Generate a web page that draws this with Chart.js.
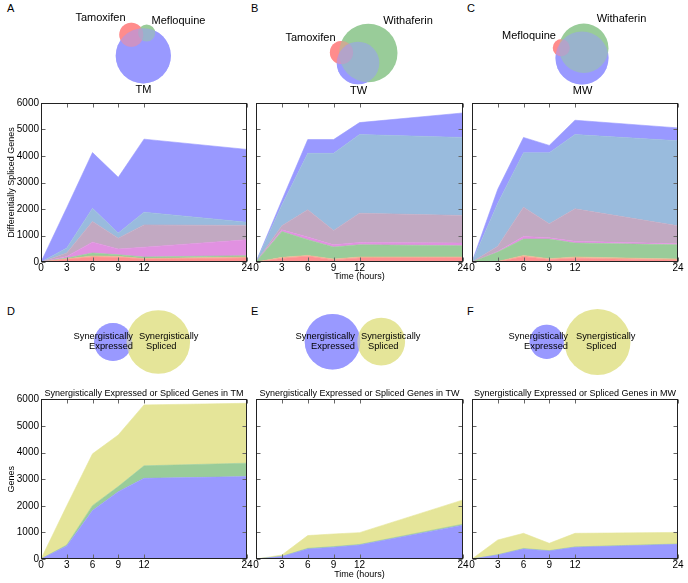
<!DOCTYPE html>
<html>
<head>
<meta charset="utf-8">
<script src="https://cdn.jsdelivr.net/npm/chart.js@4.4.1/dist/chart.umd.min.js"></script>
<style>
  html, body { margin: 0; padding: 0; background: #fff; }
  #fig { position: relative; width: 688px; height: 583px; overflow: hidden;
         font-family: 'Liberation Sans', Arial, sans-serif; }
  #fig canvas { position: absolute; }
  .tag { position: absolute; font-size: 11px; line-height: 12px; color: #000; }
</style>
</head>
<body>
<div id="fig">
  <div class="tag" style="left:7px;top:2px">A</div>
  <div class="tag" style="left:251px;top:2px">B</div>
  <div class="tag" style="left:467px;top:2px">C</div>
  <div class="tag" style="left:7px;top:305px">D</div>
  <div class="tag" style="left:251px;top:305px">E</div>
  <div class="tag" style="left:467px;top:305px">F</div>
</div>
<script>
'use strict';

// ─── Data ────────────────────────────────────────────────────────────────────

const TIMES = [0, 3, 6, 9, 12, 24];   // hours, also the x tick positions

// Differentially spliced genes — upper edge of each stacked band, bottom → top
// A: Tamoxifen (T) / Mefloquine (M) / combination TM
const TM_T      = [0, 100, 190, 180, 110, 150];
const TM_T_M    = [0, 120, 230, 210, 130, 190];
const TM_M      = [0, 150, 340, 275, 190, 240];
const TM_T_TM   = [0, 210, 750, 490, 560, 840];
const TM_ALL    = [0, 340, 1530, 900, 1400, 1380];
const TM_M_TM   = [0, 526, 2030, 1090, 1880, 1500];
const TM_TM     = [0, 2050, 4130, 3195, 4636, 4248];

// B: Tamoxifen (T) / Withaferin (W) / combination TW
const TW_T      = [0, 130, 220, 80, 150, 160];
const TW_T_W    = [0, 175, 250, 110, 190, 190];
const TW_W      = [0, 1150, 840, 565, 650, 615];
const TW_T_TW   = [0, 1215, 940, 650, 740, 715];
const TW_ALL    = [0, 1365, 1970, 1190, 1840, 1755];
const TW_W_TW   = [0, 2150, 4100, 4100, 4810, 4700];
const TW_TW     = [0, 2330, 4620, 4620, 5260, 5625];

// C: Mefloquine (M) / Withaferin (W) / combination MW
const MW_M      = [0, 10, 200, 90, 140, 70];
const MW_M_W    = [0, 20, 250, 125, 190, 110];
const MW_W      = [0, 375, 865, 865, 715, 650];
const MW_M_MW   = [0, 400, 965, 915, 780, 690];
const MW_ALL    = [0, 590, 2070, 1440, 2005, 1365];
const MW_W_MW   = [0, 2220, 4120, 4120, 4810, 4575];
const MW_MW     = [0, 2745, 4700, 4400, 5350, 5060];

// Synergistic genes — upper edge of each band (expressed, both, spliced)
const SYN_TM_EXPR   = [0, 490, 1820, 2530, 3030, 3095];
const SYN_TM_BOTH   = [0, 525, 2005, 2720, 3500, 3600];
const SYN_TM_SPLICE = [0, 2000, 3950, 4660, 5790, 5850];
const SYN_TW_EXPR   = [0, 90, 375, 440, 525, 1270];
const SYN_TW_BOTH   = [0, 100, 400, 465, 545, 1310];
const SYN_TW_SPLICE = [0, 150, 880, 940, 990, 2220];
const SYN_MW_EXPR   = [0, 150, 375, 300, 440, 550];
const SYN_MW_BOTH   = [0, 160, 395, 315, 455, 565];
const SYN_MW_SPLICE = [0, 715, 965, 590, 965, 1000];

// Venn circles (x, y, r) — top row: combo set, first drug, second drug
const VENN_COMBO = [{x: 143.3, y: 55.8, r: 27.6}, {x: 358, y: 63, r: 21.3}, {x: 582, y: 58, r: 26.5}];
const VENN_SET1  = [{x: 131.3, y: 34.7, r: 12},   {x: 341.5, y: 52.5, r: 11.6}, {x: 561.3, y: 47.7, r: 8.5}];
const VENN_SET2  = [{x: 146.7, y: 33, r: 8.6},    {x: 368.3, y: 53, r: 29.2}, {x: 583.8, y: 48.3, r: 24.7}];
// bottom row: synergistically expressed / synergistically spliced
const VENN_EXPR   = [{x: 113, y: 342, r: 19}, {x: 332.5, y: 341.7, r: 27.8}, {x: 546.7, y: 341.8, r: 17.1}];
const VENN_SPLICE = [{x: 158.3, y: 342, r: 31.8}, {x: 381.2, y: 341.7, r: 23.9}, {x: 597.5, y: 342, r: 33}];

const VENN_TOP_LABELS = [
  {text: 'Tamoxifen',  x: 100.5, y: 18.4},
  {text: 'Mefloquine', x: 178.5, y: 21.2},
  {text: 'TM',         x: 143.5, y: 90.2},
  {text: 'Withaferin', x: 408,   y: 20.5},
  {text: 'Tamoxifen',  x: 310.5, y: 37.6},
  {text: 'TW',         x: 358.5, y: 91.2},
  {text: 'Withaferin', x: 621.5, y: 19.2},
  {text: 'Mefloquine', x: 529,   y: 35.8},
  {text: 'MW',         x: 582.5, y: 91.2},
];
const VENN_BOTTOM_LABELS = [
  {text: 'Synergistically', x: 133, y: 336.5, align: 'right'},
  {text: 'Expressed',       x: 133, y: 346.6, align: 'right'},
  {text: 'Synergistically', x: 139, y: 336.5, align: 'left'},
  {text: 'Spliced',         x: 146, y: 346.6, align: 'left'},
  {text: 'Synergistically', x: 355, y: 336.5, align: 'right'},
  {text: 'Expressed',       x: 355, y: 346.6, align: 'right'},
  {text: 'Synergistically', x: 361, y: 336.5, align: 'left'},
  {text: 'Spliced',         x: 368, y: 346.6, align: 'left'},
  {text: 'Synergistically', x: 568, y: 336.5, align: 'right'},
  {text: 'Expressed',       x: 568, y: 346.6, align: 'right'},
  {text: 'Synergistically', x: 576, y: 336.5, align: 'left'},
  {text: 'Spliced',         x: 586, y: 346.6, align: 'left'},
];

// ─── Styling ─────────────────────────────────────────────────────────────────

const FONT = "'Liberation Sans', Arial, sans-serif";
const BAND_COLORS = ['#ff9090', '#ecb890', '#99cc99', '#e191e1', '#c2a9c2', '#99bbdd', '#9999ff'];
const SYN_COLORS  = ['#9999ff', '#99cc99', '#e5e599'];

const RED    = 'rgb(255,140,140)';
const GREEN  = 'rgb(153,204,153)';
const BLUE   = 'rgb(153,153,255)';
const YELLOW = 'rgb(229,229,153)';

Chart.defaults.font.family = FONT;
Chart.defaults.color = '#000';

// ─── Plugins ─────────────────────────────────────────────────────────────────

// matplotlib-like box round the plot with inward ticks on all four sides
const framePlugin = {
  id: 'frame',
  afterDatasetsDraw(chart) {
    const {ctx, chartArea: a, scales: {x, y}} = chart;
    const L = Math.round(a.left) + 0.5, R = Math.round(a.right) - 0.5;
    const T = Math.round(a.top) + 0.5,  B = Math.round(a.bottom) - 0.5;
    ctx.save();
    ctx.lineWidth = 1;
    ctx.strokeStyle = '#666';
    ctx.beginPath();
    x.ticks.forEach(t => {
      const p = Math.round(x.getPixelForValue(t.value)) + 0.5;
      ctx.moveTo(p, B); ctx.lineTo(p, B - 4);
      ctx.moveTo(p, T); ctx.lineTo(p, T + 4);
    });
    y.ticks.forEach(t => {
      const p = Math.round(y.getPixelForValue(t.value)) + 0.5;
      ctx.moveTo(L, p); ctx.lineTo(L + 4, p);
      ctx.moveTo(R, p); ctx.lineTo(R - 4, p);
    });
    ctx.stroke();
    ctx.strokeStyle = '#222';
    ctx.strokeRect(L, T, R - L, B - T);
    ctx.restore();
  },
};

// text placed in data coordinates of a venn chart
const vennTextPlugin = {
  id: 'vennText',
  afterDatasetsDraw(chart, args, opts) {
    const {ctx, scales: {x, y}} = chart;
    ctx.save();
    ctx.fillStyle = '#000';
    ctx.textBaseline = 'middle';
    ctx.font = `${opts.size}px ${FONT}`;
    opts.items.forEach(it => {
      ctx.textAlign = it.align || 'center';
      ctx.fillText(it.text, x.getPixelForValue(it.x), y.getPixelForValue(it.y));
    });
    ctx.restore();
  },
};

// ─── Builders ────────────────────────────────────────────────────────────────

function addCanvas(box) {
  const c = document.createElement('canvas');
  c.width = box.width;
  c.height = box.height;
  c.style.left = box.left + 'px';
  c.style.top = box.top + 'px';
  c.style.width = box.width + 'px';
  c.style.height = box.height + 'px';
  document.getElementById('fig').appendChild(c);
  return c;
}

function areaChart(box, bands, colors, cfg) {
  const datasets = bands.map((vals, i) => ({
    data: vals.map((v, j) => ({x: TIMES[j], y: v})),
    backgroundColor: colors[i],
    borderColor: colors[i],
    borderWidth: 0.6,
    pointRadius: 0,
    tension: 0,
    fill: i === 0 ? 'origin' : '-1',
  }));

  new Chart(addCanvas(box), {
    type: 'line',
    data: {datasets},
    options: {
      responsive: false,
      animation: false,
      events: [],
      layout: {padding: {top: cfg.padTop || 0, right: 8, bottom: 0, left: 0}},
      plugins: {
        legend: {display: false},
        tooltip: {enabled: false},
        title: cfg.title ? {
          display: true,
          text: cfg.title,
          fullSize: false,
          font: {size: 9, weight: 'normal'},
          color: '#000',
          padding: {top: 8.5, bottom: 0},
        } : {display: false},
      },
      scales: {
        x: {
          type: 'linear',
          min: 0,
          max: 24,
          afterBuildTicks: s => { s.ticks = TIMES.map(v => ({value: v})); },
          afterFit: s => { s.height = cfg.xh; },
          ticks: {font: {size: 10}, padding: 0, maxRotation: 0, autoSkip: false,
                  callback: v => String(v)},
          grid: {display: false, drawTicks: false},
          border: {display: false},
          title: {
            display: !!cfg.xTitle,
            text: 'Time (hours)',
            font: {size: 9},
            padding: {top: 0, bottom: 0},
          },
        },
        y: {
          min: 0,
          max: 6000,
          afterFit: s => { s.width = cfg.yw; },
          ticks: {display: !!cfg.yTicks, stepSize: 1000, font: {size: 10}, padding: 2,
                  callback: v => String(v)},
          grid: {display: false, drawTicks: false},
          border: {display: false},
          title: {
            display: !!cfg.yTitle,
            text: cfg.yTitle || '',
            font: {size: 9},
            padding: {top: 6.6, bottom: 0},
          },
        },
      },
    },
    plugins: [framePlugin],
  });
}

// circles are painted in passes: opaque first, then half-transparent copies
// so that overlaps show the mixed colour
function vennChart(box, passes, labels, size) {
  new Chart(addCanvas(box), {
    type: 'bubble',
    data: {
      datasets: passes.map((p, i) => ({
        data: p.circles,
        backgroundColor: p.color,
        borderWidth: 0,
        clip: false,
        order: passes.length - i,
      })),
    },
    options: {
      responsive: false,
      animation: false,
      events: [],
      layout: {padding: 0, autoPadding: false},
      plugins: {
        legend: {display: false},
        tooltip: {enabled: false},
        vennText: {items: labels, size},
      },
      scales: {
        x: {type: 'linear', display: false, min: box.left, max: box.left + box.width},
        y: {type: 'linear', display: false, min: box.top, max: box.top + box.height, reverse: true},
      },
    },
    plugins: [vennTextPlugin],
  });
}

// ─── Build ───────────────────────────────────────────────────────────────────

vennChart({left: 0, top: 0, width: 688, height: 100}, [
  {circles: VENN_COMBO, color: BLUE},
  {circles: VENN_SET1,  color: RED},
  {circles: VENN_SET2,  color: GREEN},
  {circles: VENN_SET1,  color: 'rgba(255,140,140,0.5)'},
  {circles: VENN_COMBO, color: 'rgba(153,153,255,0.5)'},
], VENN_TOP_LABELS, 11);

vennChart({left: 0, top: 290, width: 688, height: 95}, [
  {circles: VENN_EXPR,   color: BLUE},
  {circles: VENN_SPLICE, color: YELLOW},
  {circles: VENN_EXPR,   color: 'rgba(153,153,255,0.45)'},
], VENN_BOTTOM_LABELS, 9.3);

areaChart({left: 0, top: 93, width: 255, height: 187},
  [TM_T, TM_T_M, TM_M, TM_T_TM, TM_ALL, TM_M_TM, TM_TM], BAND_COLORS,
  {padTop: 10, yw: 41, xh: 18, yTicks: true, yTitle: 'Differentially Spliced Genes'});
areaChart({left: 246, top: 93, width: 225, height: 189},
  [TW_T, TW_T_W, TW_W, TW_T_TW, TW_ALL, TW_W_TW, TW_TW], BAND_COLORS,
  {padTop: 10, yw: 10, xh: 20, xTitle: true});
areaChart({left: 462, top: 93, width: 224, height: 187},
  [MW_M, MW_M_W, MW_W, MW_M_MW, MW_ALL, MW_W_MW, MW_MW], BAND_COLORS,
  {padTop: 10, yw: 10, xh: 18});

areaChart({left: 0, top: 380, width: 255, height: 197},
  [SYN_TM_EXPR, SYN_TM_BOTH, SYN_TM_SPLICE], SYN_COLORS,
  {yw: 41, xh: 18, yTicks: true, yTitle: 'Genes',
   title: 'Synergistically Expressed or Spliced Genes in TM'});
areaChart({left: 246, top: 380, width: 225, height: 200},
  [SYN_TW_EXPR, SYN_TW_BOTH, SYN_TW_SPLICE], SYN_COLORS,
  {yw: 10, xh: 21, xTitle: true,
   title: 'Synergistically Expressed or Spliced Genes in TW'});
areaChart({left: 462, top: 380, width: 224, height: 197},
  [SYN_MW_EXPR, SYN_MW_BOTH, SYN_MW_SPLICE], SYN_COLORS,
  {yw: 10, xh: 18,
   title: 'Synergistically Expressed or Spliced Genes in MW'});
</script>
</body>
</html>
